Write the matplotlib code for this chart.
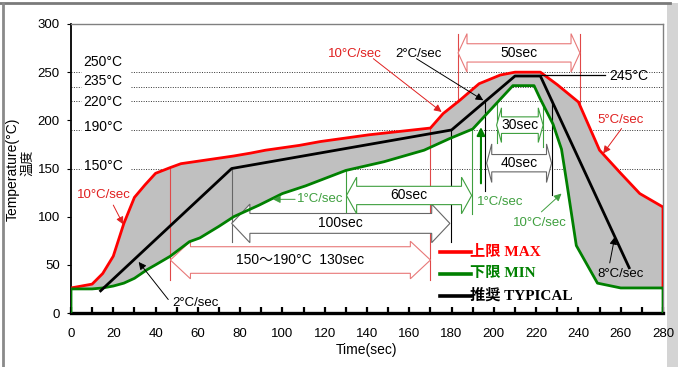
import numpy as np
import matplotlib
matplotlib.use('Agg')
import matplotlib.pyplot as plt
from matplotlib.patches import Polygon, Rectangle
from matplotlib.lines import Line2D
from matplotlib.ticker import MultipleLocator

plt.rcParams['font.family'] = ['Liberation Sans', 'Noto Sans CJK JP']

# reflow profile curves (time sec, temperature C)
t_max = [0, 10, 15, 20, 25, 30, 35, 40, 47, 52, 77, 85, 92, 108, 118, 141, 170,
         176, 184, 193, 203, 210, 222, 230, 240, 250, 260, 269, 280, 280]
T_max = [26, 30, 41, 59, 93, 120, 133, 145, 151, 155, 163, 166, 169, 174, 178, 185, 192,
         207, 221, 238, 247, 250, 250, 237, 219, 169, 145, 124, 110, 26]

t_min = [0, 0, 10, 15, 20, 25, 30, 36, 40, 47, 56, 61, 70, 77, 89, 100, 111, 130, 148,
         167, 179, 190, 209, 219, 222, 228, 232, 234.5, 239, 249, 260, 280, 280]
T_min = [0, 25, 25, 26, 28, 31, 36, 45, 50, 59, 74, 78, 90, 100, 112, 124, 132, 148, 157,
         169, 181, 191, 236, 236, 222, 196, 170, 135, 70, 31, 26, 26, 0]

t_typ = [14, 76, 180, 210, 222, 264]
T_typ = [23, 150, 190, 246, 246, 47]

levels = [250, 235, 220, 190, 150]
level_text_y = [261, 241, 219, 193, 153]

RED = '#ff0000'
GREEN = '#008000'
PINK = '#e87878'
GRAY = '#666666'
LGREEN = '#3f9f3f'

fig = plt.figure(figsize=(6.78, 3.67), dpi=100)
ax = fig.add_axes([71 / 678, 54 / 367, 592 / 678, 289 / 367])
ax.set_xlim(0, 280)
ax.set_ylim(0, 300)

# reference levels
for lv, ty in zip(levels, level_text_y):
    ax.plot([0, 4.5], [lv, lv], ls=(0, (1, 1.5)), color='#333333', lw=0.7, zorder=1)
    ax.plot([28.5, 280], [lv, lv], ls=(0, (1, 1.5)), color='#333333', lw=0.7, zorder=1)
    ax.text(6, ty, f'{lv}°C', ha='left', va='center', fontsize=10, zorder=7)

# gray band between max and min
band_x = np.concatenate([t_max, t_min[1:-1][::-1]])
band_y = np.concatenate([T_max, T_min[1:-1][::-1]])
ax.fill(band_x, band_y, color='#c0c0c0', lw=0, zorder=2)

# vertical guide lines (t, bottom, top, color)
guides = [(47, 34, 151, '#e04848'), (170, 34, 192, '#e04848'),
          (76, 74, 150, GRAY), (179.5, 74, 190, 'black'),
          (130.3, 103, 148, LGREEN), (189.5, 103, 191, LGREEN),
          (183.1, 219, 290, '#e04848'), (240.7, 217, 290, '#e04848'),
          (201.3, 176, 218, LGREEN), (223.3, 172, 217, LGREEN),
          (195.7, 127, 219, 'black'), (227.3, 122, 221, 'black')]
for gx, gb, gt, gc in guides:
    ax.plot([gx, gx], [gb, gt], color=gc, lw=0.8, zorder=3)


def block_arrow(x0, x1, yc, body, head, hlen, ec, label):
    xs = [x0, x0 + hlen, x0 + hlen, x1 - hlen, x1 - hlen, x1,
          x1 - hlen, x1 - hlen, x0 + hlen, x0 + hlen]
    ys = [yc, yc + head, yc + body, yc + body, yc + head, yc,
          yc - head, yc - body, yc - body, yc - head]
    ax.add_patch(Polygon(np.column_stack([xs, ys]), closed=True, fc='white',
                         ec=ec, lw=0.8, zorder=4))
    ax.text((x0 + x1) / 2, yc, label, ha='center', va='center', fontsize=10, zorder=7)


block_arrow(47, 170, 55, 13.8, 19.5, 9.5, PINK, '150〜190°C  130sec')
block_arrow(76, 179.2, 93, 10.3, 20, 8.6, GRAY, '100sec')
block_arrow(130.3, 189.5, 122, 9.5, 19, 4.8, LGREEN, '60sec')
block_arrow(183.1, 240.7, 270, 9.5, 20, 4.2, PINK, '50sec')
block_arrow(201.3, 223.3, 195, 8.6, 18, 2.3, LGREEN, '30sec')
block_arrow(196.6, 227.3, 155.5, 9, 20, 2.4, GRAY, '40sec')

# curves
ax.plot(t_max, T_max, color=RED, lw=2.0, zorder=5, solid_joinstyle='round')
ax.plot(t_min, T_min, color=GREEN, lw=2.0, zorder=5, solid_joinstyle='round')
ax.plot(t_typ, T_typ, color='black', lw=2.0, zorder=5, solid_joinstyle='round')

# slope labels with pointer arrows: text, text pos, arrow start, arrow tip, color
notes = [('10°C/sec', (15.6, 122.5), (20, 112), (24.7, 92), '#e02020'),
         ('2°C/sec', (59, 10.5), (46, 14), (32, 53), 'black'),
         ('1°C/sec', (118, 118), (106, 118), (95.5, 118), LGREEN),
         ('10°C/sec', (134.5, 269), (143, 264), (175.3, 208.7), '#e02020'),
         ('2°C/sec', (164.5, 269), (163.4, 264), (195, 220.8), 'black'),
         ('5°C/sec', (260, 200), (260.4, 191.5), (251.7, 165.6), '#e02020'),
         ('10°C/sec', (222, 93), (222.5, 105), (232, 124), LGREEN),
         ('8°C/sec', (260, 41), (254.8, 52), (257.2, 79), 'black')]
for txt, tp, st, tip, c in notes:
    ax.text(tp[0], tp[1], txt, ha='center', va='center', fontsize=9.5, color=c, zorder=7)
    ax.annotate('', xy=tip, xytext=st,
                arrowprops=dict(arrowstyle='-|>', color=c, lw=0.7, mutation_scale=11,
                                shrinkA=0, shrinkB=0), zorder=7)

# thick green up arrow
ax.text(202.8, 115.5, '1°C/sec', ha='center', va='center', fontsize=9.5, color=LGREEN, zorder=7)
ax.annotate('', xy=(193.9, 193), xytext=(193.9, 134.6),
            arrowprops=dict(arrowstyle='-|>', color=GREEN, lw=1.5, mutation_scale=12,
                            shrinkA=0, shrinkB=0), zorder=7)

# peak label
ax.plot([221.7, 252.5], [246.6, 246.6], color='black', lw=0.9, zorder=6)
ax.text(263.8, 246, '245°C', ha='center', va='center', fontsize=10, zorder=7)

# legend
legend_items = [('上限 MAX', RED, 63.8), ('下限 MIN', GREEN, 40.7), ('推奨 TYPICAL', 'black', 17.9)]
for lab, c, ly in legend_items:
    ax.plot([174.5, 189], [ly, ly], color=c, lw=2.6, zorder=6)
    ax.text(188.7, ly, lab, ha='left', va='center', fontsize=11, color=c, fontweight='bold',
            family=['Liberation Serif', 'Noto Sans CJK JP'], zorder=7)

# axes styling
ax.xaxis.set_major_locator(MultipleLocator(20))
ax.xaxis.set_minor_locator(MultipleLocator(10))
ax.yaxis.set_major_locator(MultipleLocator(50))
ax.tick_params(axis='x', which='both', direction='in', length=4, width=1.6, pad=11,
               labelsize=9.5)
ax.tick_params(axis='y', direction='out', length=3, width=0.8, pad=5, labelsize=9.5)
ax.spines['bottom'].set_linewidth(2.4)
ax.spines['left'].set_linewidth(1.3)
for s in ('top', 'right'):
    ax.spines[s].set_color('#808080')
    ax.spines[s].set_linewidth(1.0)
ax.set_xlabel('Time(sec)', fontsize=10, labelpad=2)
fig.text(13 / 678, 1 - 169 / 367, 'Temperature(°C)', rotation=90, ha='center', va='center',
         fontsize=10)
fig.text(28 / 678, 1 - 163 / 367, '温度', rotation=90, ha='center', va='center', fontsize=9.5)

# outer frame like the source screenshot
fig.add_artist(Line2D([0, 670 / 678], [1 - 3 / 367] * 2, color='#7a7a7a', lw=2,
                      transform=fig.transFigure))
fig.add_artist(Line2D([3 / 678] * 2, [0, 1 - 3 / 367], color='#8a8a8a', lw=2,
                      transform=fig.transFigure))
fig.add_artist(Rectangle((667 / 678, 0), 11 / 678, 1 - 3 / 367, color='#d4d4d4',
                         transform=fig.transFigure, lw=0, zorder=-1))

fig.savefig('out.png', dpi=100)
